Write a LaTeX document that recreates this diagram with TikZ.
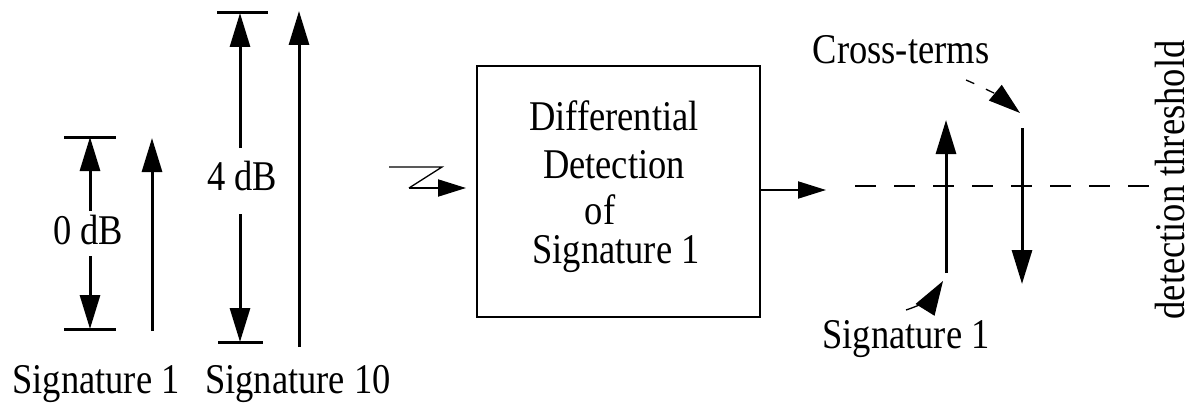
\documentclass[tikz,border=0pt]{standalone}
\usepackage{fontspec}
\newfontfamily\tnr{Liberation Serif}
\usetikzlibrary{arrows.meta}
\begin{document}
\begin{tikzpicture}[x=1pt,y=-1pt,
  lblbase/.style={font=\tnr\fontsize{36.5}{40}\selectfont, inner sep=0pt, anchor=base},
  lbl/.style={lblbase, yscale=1.16, transform shape},
  vlbl/.style={lblbase, rotate=90, yscale=1.16, transform shape},
  bigarrow/.style={line width=3pt, -{Triangle[length=34pt,width=20pt]}},
  tick/.style={line width=3pt},
  smallarrow/.style={line width=2pt, -{Triangle[length=28pt,width=17pt]}},
  thinarrow/.style={line width=1.3pt, -{Triangle[length=34pt,width=22pt]}},
  boxstyle/.style={draw, line width=2pt, minimum width=283pt, minimum height=251pt, inner sep=0pt}
]
\useasboundingbox (0,0) rectangle (1198,409);

% --- 0 dB bar ---
\coordinate (t0a) at (64,137); \coordinate (t0b) at (116,137);
\coordinate (b0a) at (64,329); \coordinate (b0b) at (116,329);
\coordinate (t0) at (90,137); \coordinate (b0) at (90,329);
\draw[tick] (t0a) -- (t0b);
\draw[tick] (b0a) -- (b0b);
\node[lbl] (l0) at (88,244) {0 dB};
\coordinate (l0u) at (90,211); \coordinate (l0d) at (90,256);
\draw[bigarrow] (l0u) -- (t0);
\draw[bigarrow] (l0d) -- (b0);

% Signature 1 arrow
\coordinate (s1b) at (152,331); \coordinate (s1t) at (152,138);
\draw[bigarrow] (s1b) -- (s1t);

% --- 4 dB bar ---
\coordinate (t4a) at (217,13); \coordinate (t4b) at (268,13);
\coordinate (b4a) at (218,342); \coordinate (b4b) at (263,342);
\coordinate (t4) at (240,13); \coordinate (b4) at (240,342);
\draw[tick] (t4a) -- (t4b);
\draw[tick] (b4a) -- (b4b);
\node[lbl] (l4) at (242,190) {4 dB};
\coordinate (l4u) at (240,148); \coordinate (l4d) at (240,214);
\draw[bigarrow] (l4u) -- (t4);
\draw[bigarrow] (l4d) -- (b4);

% Signature 10 arrow
\coordinate (s10b) at (299,347); \coordinate (s10t) at (299,11);
\draw[bigarrow] (s10b) -- (s10t);

\node[lbl] (sig1) at (96,393) {Signature 1};
\node[lbl] (sig10) at (298,393) {Signature 10};

% --- input lightning arrow ---
\coordinate (z1) at (389,167); \coordinate (z2) at (442,167);
\coordinate (z3) at (409,188); \coordinate (z4) at (466,188);
\draw[line width=1.3pt] (z1) -- (z2) -- (z3);
\draw[smallarrow] (z3) -- (z4);

% --- box ---
\node[boxstyle] (box) at (618.5,191.5) {};
\node[lbl] (d1) at (614,130) {Differential};
\node[lbl] (d2) at (614,178) {Detection};
\node[lbl] (d3) at (600,224) {of};
\node[lbl] (d4) at (616,263) {Signature 1};

% output arrow
\coordinate (o2) at (826,190);
\draw[smallarrow] (box.east |- o2) -- (o2);

% threshold
\coordinate (th1) at (855,186); \coordinate (th2) at (1158,186);
\draw[line width=2pt, dash pattern=on 21pt off 18pt] (th1) -- (th2);
\node[vlbl] (dt) at (1184,180) {detection threshold};

% output signature arrows
\coordinate (r1b) at (946,273); \coordinate (r1t) at (946,120);
\draw[bigarrow] (r1b) -- (r1t);
\coordinate (r2t) at (1022,128); \coordinate (r2b) at (1022,284);
\draw[bigarrow] (r2t) -- (r2b);

% labels
\node[lbl] (ct) at (901,64) {Cross-terms};
\coordinate (c1) at (966,80); \coordinate (c2) at (1020,113);
\draw[line width=1.3pt, dash pattern=on 9pt off 13pt, -{Triangle[length=32pt,width=20pt]}] (c1) to[bend left=8] (c2);

\node[lbl] (rs1) at (906,348) {Signature 1};
\coordinate (a1) at (906,310); \coordinate (a2) at (943,281);
\draw[thinarrow] (a1) to[bend right=20] (a2);
\end{tikzpicture}
\end{document}
